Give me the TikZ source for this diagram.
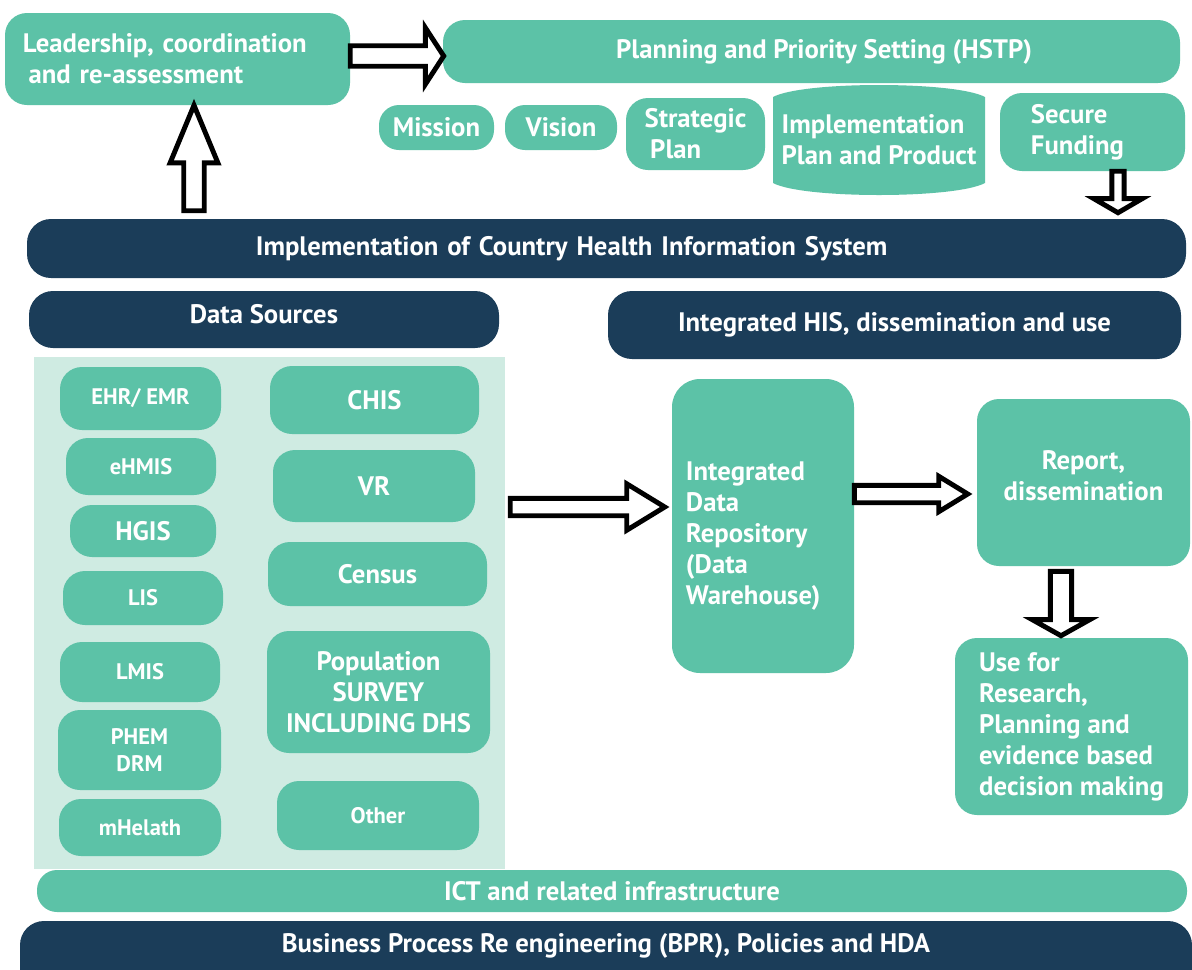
\documentclass[tikz,border=0pt]{standalone}
\usepackage{fontspec}
\setmainfont{PT Sans}
\usepackage{tikz}
\usetikzlibrary{calc}
\definecolor{hisgreen}{HTML}{5CC2A7}
\definecolor{hisnavy}{HTML}{1B3D59}
\definecolor{hislight}{HTML}{CFEBE2}

\begin{document}
\begin{tikzpicture}[x=0.025cm,y=-0.025cm,
  font=\bfseries\fontsize{19}{22}\selectfont,
  sz/.style 2 args={minimum width=#1*0.025cm,minimum height=#2*0.025cm},
  tbox/.style={fill=hisgreen,text=white,rounded corners=0.55cm,inner sep=0pt},
  nbox/.style={fill=hisnavy,text=white,rounded corners=0.6cm,inner sep=0pt},
  small/.style={font=\bfseries\fontsize{16}{19}\selectfont},
  hollow/.style={draw=black,fill=white,line width=3.5pt,line join=miter},
  blockto/.style n args={3}{to path={
    let \p1=(\tikztostart), \p2=(\tikztotarget),
        \n1={atan2(\y2-\y1,\x2-\x1)},
        \n2={veclen(\x2-\x1,\y2-\y1)*1pt},
        \n3={(\n2-#3)*1pt}
    in ([shift={(\p1)},rotate=\n1]0pt,#1pt)
    -- ([shift={(\p1)},rotate=\n1]\n3,#1pt)
    -- ([shift={(\p1)},rotate=\n1]\n3,#2pt)
    -- ([shift={(\p1)},rotate=\n1]\n2,0pt)
    -- ([shift={(\p1)},rotate=\n1]\n3,-#2pt)
    -- ([shift={(\p1)},rotate=\n1]\n3,-#1pt)
    -- ([shift={(\p1)},rotate=\n1]0pt,-#1pt) -- cycle}}]

\clip (0,0) rectangle (1192,969);
\fill[white] (0,0) rectangle (1192,969);

\node[tbox,sz={345}{92},text width=7.725cm,align=left] (lead) at (177.5,59) {Leadership, coordination\\\hspace*{4pt}and re-assessment};
\node[tbox,sz={737}{63}] (plan) at (811.5,51.5) {\hspace*{18pt}Planning and Priority Setting (HSTP)};
\node[tbox,sz={115}{45},rounded corners=0.5cm] (mission) at (436.5,127.5) {Mission};
\node[tbox,sz={112}{45},rounded corners=0.5cm] (vision) at (561,127.5) {Vision};
\node[tbox,sz={139}{72},align=left] (strat) at (695.5,134) {Strategic\\\hspace*{4pt}Plan};
\fill[hisgreen] (773,97) .. controls (803,81) and (955,81) .. (985,97) -- (985,183) .. controls (955,199) and (803,199) .. (773,183) -- cycle;
\node[sz={212}{110},inner sep=0pt,text=white,align=left] (impl) at (879,140) {Implementation\\Plan and Product};
\node[tbox,sz={185}{78},text width=3.075cm,align=left] (fund) at (1092.5,132) {Secure\\Funding};

\node[nbox,sz={1159}{59},text width=17.525cm,align=left] (ihis) at (606.5,248.5) {Implementation of Country Health Information System};
\node[nbox,sz={470}{57},text depth=8.6pt] (dsrc) at (264,319.5) {Data Sources};
\node[nbox,sz={573}{68}] (inth) at (894.5,325) {Integrated HIS, dissemination and use};

\node[fill=hislight,inner sep=0pt,sz={471}{512}] (bg) at (269.5,613) {};
\node[tbox,small,sz={161}{63}] (ehr) at (140.5,398.5) {EHR/ EMR};
\node[tbox,small,sz={150}{57}] (ehmis) at (141,466.5) {eHMIS};
\node[tbox,sz={146}{52}] (hgis) at (143,531) {HGIS};
\node[tbox,small,sz={160}{54}] (lis) at (143,598) {LIS};
\node[tbox,small,sz={160}{60}] (lmis) at (140,672) {LMIS};
\node[tbox,small,sz={163}{80},align=center] (phem) at (139.5,750) {PHEM\\DRM};
\node[tbox,small,sz={162}{57}] (mhealth) at (140,827.5) {mHelath};
\node[tbox,sz={209}{68}] (chis) at (374.5,400) {CHIS};
\node[tbox,sz={202}{72}] (vr) at (374,486) {VR};
\node[tbox,sz={219}{64}] (census) at (377.5,574) {Census};
\node[tbox,sz={223}{122},align=center] (survey) at (378.5,692) {Population\\SURVEY\\INCLUDING DHS};
\node[tbox,small,sz={202}{69}] (other) at (378,815.5) {Other};

\node[tbox,sz={182}{294},text width=3.85cm,text height=28pt,align=left,rounded corners=0.7cm] (repo) at (763,526) {Integrated\\Data\\Repository\\(Data\\Warehouse)};
\node[tbox,sz={213}{167},text depth=10pt,align=center] (report) at (1083.5,482.5) {Report,\\dissemination};
\node[tbox,sz={233}{177},align=left] (use) at (1071.5,726.5) {Use for\\Research,\\Planning and\\evidence based\\decision making};

\node[tbox,sz={1150}{42},rounded corners=0.5cm] (ict) at (612,891) {ICT and related infrastructure};
\fill[hisnavy,rounded corners=0.6cm] (20,921) rectangle (1192,1010);
\node[sz={1172}{50},inner sep=0pt,text=white] (bpr) at (606,946) {Business Process Re engineering (BPR), Policies and HDA};

\draw[hollow] ($(lead.east)+(0,-3)$) to[blockto={7.3}{20}{13}] ($(lead.east -| plan.west)+(1,-3)$);
\draw[hollow] ($(194,0 |- ihis.north)+(0,-8)$) to[blockto={7.3}{17}{41}] (194,0 |- lead.south);
\draw[hollow] (1118,0 |- fund.south) to[blockto={4.4}{17.2}{10}] ($(1118,0 |- ihis.north)+(0,-6)$);
\draw[hollow] ($(bg.east |- 0,507)+(5,0)$) to[blockto={6.2}{16.5}{27}] ($(repo.west |- 0,507)+(-7,0)$);
\draw[hollow] (repo.east |- 0,494) to[blockto={6.2}{12.6}{20.6}] ($(report.west |- 0,494)+(-9,0)$);
\draw[hollow] ($(1061,0 |- report.south)+(0,5)$) to[blockto={7.6}{20.4}{11.4}] ($(1061,0 |- use.north)+(0,-2)$);
\end{tikzpicture}
\end{document}
